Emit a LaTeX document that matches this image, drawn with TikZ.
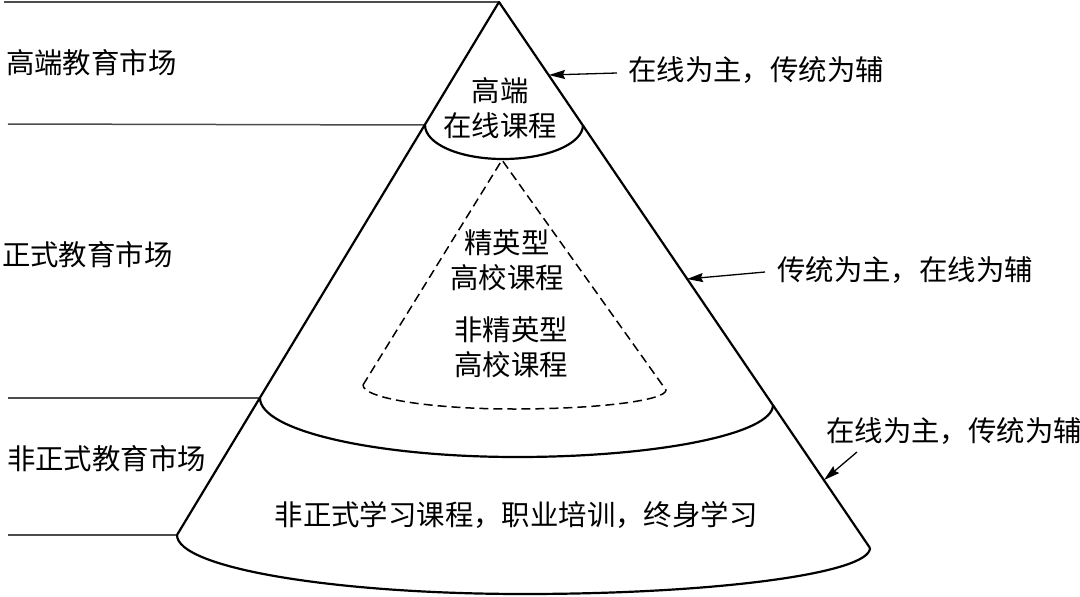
\documentclass[tikz,border=0pt]{standalone}
\usepackage{fontspec}
\newfontfamily\cjk{Noto Sans CJK SC}
\usetikzlibrary{arrows.meta}
\begin{document}
\begin{tikzpicture}[x=1pt,y=-1pt,
  cone/.style={line width=2.2pt, black, line join=round},
  guide/.style={line width=1.5pt, black!70},
  arr/.style={line width=1.3pt, -{Stealth[length=16pt,width=9pt,inset=2pt]}},
  dashcone/.style={line width=1.5pt, dash pattern=on 9pt off 5pt},
  lbl/.style={font=\cjk\fontsize{28.4}{35}\selectfont, inner sep=0pt, align=center},
]
\useasboundingbox (0,0) rectangle (1080,597);

% cone geometry
\coordinate (apex) at (499,2);
\coordinate (BL) at (177,535);
\coordinate (BR) at (870,548);
\coordinate (OB) at (524,594);
\coordinate (ML) at (260,398);
\coordinate (MR) at (773,405);
\coordinate (MB) at (517,457);
\coordinate (TL) at (425,125);
\coordinate (TR) at (583,125);
\coordinate (TB) at (503,159);
\coordinate (DA) at (502,160);
\coordinate (DL) at (363,385);
\coordinate (DR) at (666,390);
\coordinate (DB) at (514,409);

% guide line starts
\coordinate (g0) at (4,2);
\coordinate (g1) at (8,124);
\coordinate (g2) at (8,398);
\coordinate (g3) at (8,535);

% arrows
\coordinate (tip1) at (549,75);
\coordinate (tail1) at (617,73);
\coordinate (tip2) at (687,279);
\coordinate (tail2) at (765,272);
\coordinate (tip3) at (824,480);
\coordinate (tail3) at (857,452);

% guide lines
\draw[guide] (g0) -- (apex);
\draw[guide] (g1) -- (TL);
\draw[guide] (g2) -- (ML);
\draw[guide] (g3) -- (BL);

% cone outline
\draw[cone] (BL) -- (apex) -- (BR);
\draw[cone] (TL) .. controls +(0,18.8) and +(-43.6,0) .. (TB)
                 .. controls +(44.2,0) and +(0,18.8) .. (TR);
\draw[cone] (ML) .. controls +(0,32.6) and +(-141.9,0) .. (MB)
                 .. controls +(141.4,0) and +(0,28.7) .. (MR);
\draw[cone] (BL) .. controls +(0,32.6) and +(-191.6,0) .. (OB)
                 .. controls +(191.1,0) and +(0,25.4) .. (BR);

% dashed inner cone
\draw[dashcone] (DL) -- (DA) -- (DR)
   .. controls +(0,10.5) and +(83.9,0) .. (DB)
   .. controls +(-83.4,0) and +(0,13.3) .. (DL);

% texts inside cone
\node[lbl] (hi) at (500,108) {高端\\在线课程};
\node[lbl] (elite) at (507,260) {精英型\\高校课程};
\node[lbl] (nonelite) at (511,347) {非精英型\\高校课程};
\node[lbl] (informal) at (516,515) {非正式学习课程，职业培训，终身学习};

% left labels
\node[lbl, anchor=west] (m1) at (6,63) {高端教育市场};
\node[lbl, anchor=west] (m2) at (2,255) {正式教育市场};
\node[lbl, anchor=west] (m3) at (7,459) {非正式教育市场};

% right labels
\node[lbl, anchor=west] (r1) at (628,70) {在线为主，传统为辅};
\node[lbl, anchor=west] (r2) at (777,270) {传统为主，在线为辅};
\node[lbl, anchor=west] (r3) at (826,431) {在线为主，传统为辅};

\draw[arr] (tail1) -- (tip1);
\draw[arr] (tail2) -- (tip2);
\draw[arr] (tail3) -- (tip3);
\end{tikzpicture}
\end{document}
